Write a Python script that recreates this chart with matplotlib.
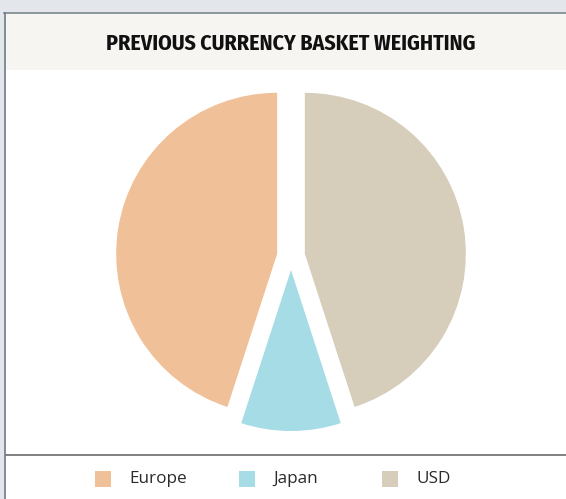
import matplotlib
matplotlib.use("Agg")
import matplotlib.pyplot as plt
from matplotlib.patches import Rectangle
from matplotlib.lines import Line2D
from matplotlib import font_manager

# currency weights in the basket (percent)
labels = ["Europe", "Japan", "USD"]
weights = [45, 10, 45]
colors = ["#f0c098", "#a6dce6", "#d6cdba"]
title = "PREVIOUS CURRENCY BASKET WEIGHTING"

W, H = 566, 499
fig = plt.figure(figsize=(W / 100, H / 100), dpi=100)
fig.patch.set_facecolor("#e3e6eb")

names = {f.name for f in font_manager.fontManager.ttflist}


def pick(*cands):
    for c in cands:
        if c in names:
            return c
    return "DejaVu Sans"


title_font = pick("Fira Sans Condensed", "Asap Condensed", "Liberation Sans")
body_font = pick("Open Sans", "Lato")


def px(x, y):
    # pixel position (from top-left) to figure fraction
    return x / W, 1 - y / H


# panel background, title band and frame lines
fig.patches.append(Rectangle(px(4, H), (W - 4) / W, (H - 13) / H,
                             transform=fig.transFigure, facecolor="white",
                             edgecolor="none", zorder=-2))
fig.patches.append(Rectangle(px(4, 70), (W - 4) / W, 57 / H,
                             transform=fig.transFigure, facecolor="#f6f5f1",
                             edgecolor="none", zorder=-1))
fig.lines.append(Line2D([4 / W, 1], [1 - 12.5 / H] * 2, transform=fig.transFigure,
                        color="#7b8790", lw=1.2))
fig.lines.append(Line2D([4.5 / W] * 2, [0, 1 - 12.5 / H], transform=fig.transFigure,
                        color="#6c7a85", lw=1.2))
fig.lines.append(Line2D([5 / W, 1], [1 - 455 / H] * 2, transform=fig.transFigure,
                        color="#777777", lw=1.3, solid_capstyle="butt"))

fig.text(*px(291, 44), title, ha="center", va="center", fontsize=15.7,
         fontweight="bold", family=title_font, color="#111111")

# pie: radius 161 px around (291, 256)
cx, cy, r_px, box = 291, 256, 161, 400
ax = fig.add_axes([(cx - box / 2) / W, 1 - (cy + box / 2) / H, box / W, box / H],
                  zorder=2)
ax.patch.set_visible(False)
ax.pie(weights, colors=colors, startangle=90, counterclock=True,
       explode=[0.087] * len(weights), radius=1,
       wedgeprops=dict(linewidth=0))
lim = box / 2 / r_px
ax.set_xlim(-lim, lim)
ax.set_ylim(-lim, lim)
ax.set_aspect("equal")
ax.axis("off")

# legend row
sq_x = [95, 239, 382]
for x0, lab, col in zip(sq_x, labels, colors):
    fig.patches.append(Rectangle(px(x0, 487), 16 / W, 16 / H,
                                 transform=fig.transFigure, facecolor=col,
                                 edgecolor="none"))
    fig.text(*px(x0 + 34, 479), lab, ha="left", va="center", fontsize=12.3,
             fontweight="normal", family=body_font, color="#2a2a2a")

fig.savefig("out.png", dpi=100, facecolor=fig.get_facecolor())
